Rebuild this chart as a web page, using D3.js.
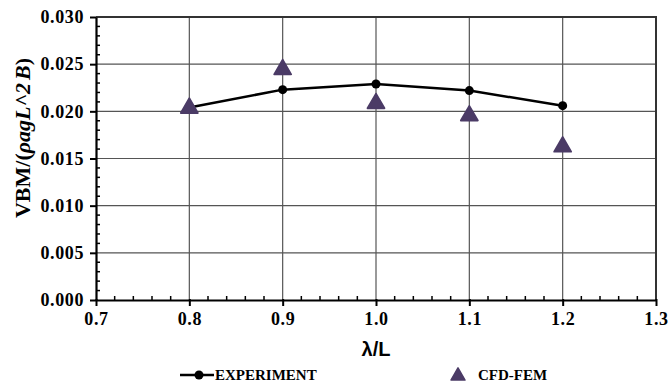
<!DOCTYPE html>
<html><head><meta charset="utf-8">
<script src="https://cdn.jsdelivr.net/npm/d3@7"></script>
<style>
body{margin:0;background:#fff;}
svg{display:block;}
text{font-family:"Liberation Serif","Times New Roman",serif;}
</style></head>
<body><svg id="chart" width="668" height="383"></svg>
<script>
const lambdaL = [0.8, 0.9, 1.0, 1.1, 1.2];
const experiment = [0.0204, 0.0223, 0.0229, 0.0222, 0.0206];
const cfdFem = [0.0205, 0.0246, 0.0210, 0.0197, 0.0164];
const xTicks = [0.7, 0.8, 0.9, 1.0, 1.1, 1.2, 1.3];
const yTicks = [0.000, 0.005, 0.010, 0.015, 0.020, 0.025, 0.030];
const seriesNames = ["EXPERIMENT", "CFD-FEM"];

const W = 668, H = 383;
const m = {left: 96, right: 12, top: 17, bottom: 83};
const svg = d3.select("#chart");
const x = d3.scaleLinear().domain([0.7, 1.3]).range([m.left, W - m.right]);
const y = d3.scaleLinear().domain([0, 0.03]).range([H - m.bottom, m.top]);
const triColor = "#4b3b66";

// grid
svg.append("g").selectAll("line").data(yTicks.slice(1)).join("line")
  .attr("x1", m.left).attr("x2", W - m.right)
  .attr("y1", d => y(d)).attr("y2", d => y(d))
  .attr("stroke", "#555").attr("stroke-width", 1.2);
svg.append("g").selectAll("line").data(xTicks.slice(1)).join("line")
  .attr("y1", m.top).attr("y2", H - m.bottom)
  .attr("x1", d => x(d)).attr("x2", d => x(d))
  .attr("stroke", "#555").attr("stroke-width", 1.2);
// border top/right
svg.append("path")
  .attr("d", `M${m.left},${m.top}H${W - m.right}V${H - m.bottom}`)
  .attr("fill", "none").attr("stroke", "#333").attr("stroke-width", 2);

// minor ticks
const xMinor = d3.range(0.72, 1.3, 0.02).filter(v => Math.abs(v * 10 - Math.round(v * 10)) > 1e-6);
svg.append("g").selectAll("line").data(xMinor).join("line")
  .attr("x1", d => x(d)).attr("x2", d => x(d))
  .attr("y1", y(0)).attr("y2", y(0) - 4)
  .attr("stroke", "#000").attr("stroke-width", 1.5);
const yMinor = d3.range(0.001, 0.03, 0.001).filter(v => Math.abs(v / 0.005 - Math.round(v / 0.005)) > 1e-6);
svg.append("g").selectAll("line").data(yMinor).join("line")
  .attr("x1", x(0.7)).attr("x2", x(0.7) + 4)
  .attr("y1", d => y(d)).attr("y2", d => y(d))
  .attr("stroke", "#000").attr("stroke-width", 1.5);

// axes
const xAxis = svg.append("g").attr("transform", `translate(0,${y(0)})`)
  .call(d3.axisBottom(x).tickValues(xTicks).tickFormat(d3.format(".1f")).tickSizeOuter(0).tickSizeInner(6).tickPadding(6));
const yAxis = svg.append("g").attr("transform", `translate(${x(0.7)},0)`)
  .call(d3.axisLeft(y).tickValues(yTicks).tickFormat(d3.format(".3f")).tickSizeOuter(0).tickSizeInner(6).tickPadding(6));
[xAxis, yAxis].forEach(g => {
  g.select(".domain").attr("stroke", "#000").attr("stroke-width", 2.2);
  g.selectAll(".tick line").attr("stroke", "#000").attr("stroke-width", 2);
  g.selectAll(".tick text").attr("fill", "#000")
    .style("font-family", "'Liberation Serif',serif").style("font-weight", "bold").style("font-size", "18px")
    .style("letter-spacing", "0.6px");
});
xAxis.selectAll(".tick line").attr("y1", -1);

// experiment line
const line = d3.line().x((d, i) => x(lambdaL[i])).y(d => y(d));
svg.append("path").datum(experiment).attr("d", line)
  .attr("fill", "none").attr("stroke", "#000").attr("stroke-width", 2.5);
svg.append("g").selectAll("circle").data(experiment).join("circle")
  .attr("cx", (d, i) => x(lambdaL[i])).attr("cy", d => y(d)).attr("r", 4.5).attr("fill", "#000");

// triangles
const tri = d3.symbol().type(d3.symbolTriangle).size(125);
svg.append("g").selectAll("path").data(cfdFem).join("path")
  .attr("d", tri)
  .attr("transform", (d, i) => `translate(${x(lambdaL[i])},${y(d) + 1.5})`)
  .attr("fill", triColor).attr("stroke", triColor).attr("stroke-width", 1.8).attr("stroke-linejoin", "round");

// axis titles
svg.append("text").attr("x", (m.left + W - m.right) / 2).attr("y", 356)
  .attr("text-anchor", "middle")
  .style("font-family", "'Liberation Sans',Arial,sans-serif").style("font-weight", "bold").style("font-size", "20px")
  .text("λ/L");
const yt = svg.append("text").attr("transform", "translate(30,138) rotate(-90)")
  .attr("text-anchor", "middle").style("font-weight", "bold").style("font-size", "22px");
yt.append("tspan").text("VBM/(");
yt.append("tspan").style("font-style", "italic").text("ρagL^2");
yt.append("tspan").style("font-style", "italic").attr("dx", 3).text("B");
yt.append("tspan").text(")");

// legend
const lg = svg.append("g");
lg.append("line").attr("x1", 180).attr("x2", 214).attr("y1", 375).attr("y2", 375)
  .attr("stroke", "#000").attr("stroke-width", 2.5);
lg.append("circle").attr("cx", 199).attr("cy", 375).attr("r", 4.5).attr("fill", "#000");
lg.append("text").attr("x", 215).attr("y", 380).style("font-weight", "bold").style("font-size", "15px")
  .text(seriesNames[0]);
lg.append("path").attr("d", d3.symbol().type(d3.symbolTriangle).size(85)).attr("transform", "translate(458,376)")
  .attr("fill", triColor).attr("stroke", triColor).attr("stroke-width", 1.5).attr("stroke-linejoin", "round");
lg.append("text").attr("x", 478).attr("y", 380).style("font-weight", "bold").style("font-size", "15px")
  .text(seriesNames[1]);
</script></body></html>
